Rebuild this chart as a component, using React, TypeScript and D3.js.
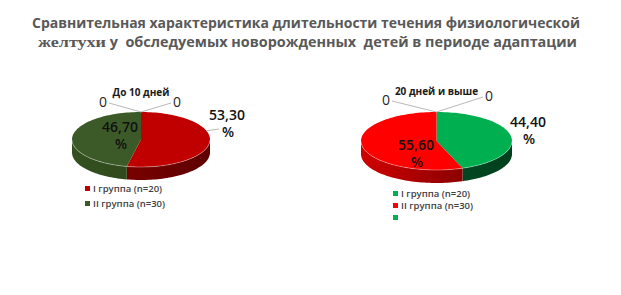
import React, { useEffect } from 'react';
import * as d3 from 'd3';

const titleLine1 = 'Сравнительная характеристика длительности течения физиологической';
const titleLine2Serif = 'желтухи';
const titleLine2Rest = ' у  обследуемых новорожденных  детей в периоде адаптации';
const pieTitles = ['До 10 дней', '20 дней и выше'];
const seriesNames = ['I группа (n=20)', 'II группа (n=30)'];
const valuesUpTo10 = [53.3, 46.7, 0, 0];
const values20Plus = [44.4, 55.6, 0, 0];

const W = 621;
const H = 295;
const SANS = "'Open Sans', 'Noto Sans', sans-serif";
const SERIF = "'Liberation Serif', 'DejaVu Serif', serif";

type Cfg = {
  id: string;
  cx: number; cy: number; rx: number; ry: number; depth: number;
  colors: string[];
  sides: [string, string][];
  labelPos: [number, number][];
  leader?: (null | [number, number])[];
  zeroPos: [number, number][];
  title: string; titleY: number;
  legendX: number; legendY: number; legendDy: number;
  legendNames: string[]; legendColors: string[];
};

const fmt = (v: number) => v.toFixed(2).replace('.', ',');

function Pie3D({ cfg, values }: { cfg: Cfg; values: number[] }) {
  const { cx, cy, rx, ry, depth } = cfg;
  const pie = d3.pie<number>().sort(null).value((d) => d);
  const arcs = pie(values);
  const pt = (t: number, dy = 0): [number, number] => [cx + rx * Math.sin(t), cy - ry * Math.cos(t) + dy];
  const line = d3.line<[number, number]>();
  const sample = (a: number, b: number, dy = 0) => {
    const n = Math.max(2, Math.ceil(((b - a) / (2 * Math.PI)) * 180));
    return d3.range(n + 1).map((i) => pt(a + ((b - a) * i) / n, dy));
  };
  const tops = arcs.map((a) => {
    if (a.endAngle - a.startAngle <= 0) return null;
    return line([[cx, cy], ...sample(a.startAngle, a.endAngle)]) + 'Z';
  });
  const sidesP = arcs.map((a) => {
    const s = Math.max(a.startAngle, Math.PI / 2);
    const e = Math.min(a.endAngle, (3 * Math.PI) / 2);
    if (e <= s) return null;
    const top = sample(s, e);
    const bot = sample(s, e, depth).reverse();
    return line([...top, ...bot]) + 'Z';
  });
  const rim = line(sample(Math.PI / 2, (3 * Math.PI) / 2));
  const topPoint = pt(0);
  const zeroArcs = arcs.filter((a) => a.value === 0);
  return (
    <g>
      <defs>
        {cfg.sides.map((s, i) => (
          <linearGradient key={i} id={`${cfg.id}-side-${i}`} gradientUnits="userSpaceOnUse" x1={cx - rx} x2={cx + rx} y1={0} y2={0}>
            <stop offset="0" stopColor={s[0]} />
            <stop offset="1" stopColor={s[1]} />
          </linearGradient>
        ))}
      </defs>
      {sidesP.map((p, i) => p && <path key={'s' + i} d={p} fill={`url(#${cfg.id}-side-${i})`} />)}
      {tops.map((p, i) => p && <path key={'t' + i} d={p} fill={cfg.colors[i]} />)}
      <path d={rim || ''} fill="none" stroke="#ffffff" strokeOpacity={0.35} strokeWidth={1} />
      {zeroArcs.map((a, k) => (
        <g key={'z' + k}>
          <line x1={topPoint[0]} y1={topPoint[1]} x2={cfg.zeroPos[k][0] + (k === 0 ? 6 : -6)} y2={cfg.zeroPos[k][1] - 4} stroke="#a6a6a6" strokeWidth={0.8} />
          <text x={cfg.zeroPos[k][0]} y={cfg.zeroPos[k][1]} fontFamily={SANS} fontSize={14} fontWeight={500} fill="#262626" textAnchor="middle">0</text>
        </g>
      ))}
      {arcs.map((a, i) => {
        if (a.value === 0) return null;
        const [lx, ly] = cfg.labelPos[i];
        const ld = cfg.leader && cfg.leader[i];
        return (
          <g key={'l' + i}>
            {ld && <line x1={pt(ld[0])[0]} y1={pt(ld[0])[1]} x2={ld[1]} y2={ly + 9} stroke="#a6a6a6" strokeWidth={0.8} />}
            <text x={lx} y={ly} fontFamily={SANS} fontSize={14} fontWeight={600} fill="#111" textAnchor="middle">{fmt(a.value)}</text>
            <text x={lx + 1} y={ly + 17} fontFamily={SANS} fontSize={14} fontWeight={600} fill="#111" textAnchor="middle">%</text>
          </g>
        );
      })}
      <text x={cx} y={cfg.titleY} fontFamily={SANS} fontSize={10} fontWeight={700} fill="#1a1a1a" textAnchor="middle">{cfg.title}</text>
      {cfg.legendNames.map((n, i) => (
        <g key={'lg' + i}>
          <rect x={cfg.legendX} y={cfg.legendY + i * cfg.legendDy - 6} width={5} height={5} fill={cfg.legendColors[i]} />
          <text x={cfg.legendX + 8} y={cfg.legendY + i * cfg.legendDy} fontFamily={SANS} fontSize={9.5} fontWeight={600} fill="#404040">{n}</text>
        </g>
      ))}
    </g>
  );
}

const leftCfg: Cfg = {
  id: 'p1', cx: 141, cy: 139.5, rx: 69, ry: 27.5, depth: 13,
  colors: ['#C00000', '#3C5A27', '#888', '#888'],
  sides: [['#8a0000', '#5e0000'], ['#34501f', '#2a4019'], ['#444', '#444'], ['#444', '#444']],
  labelPos: [[227, 120], [120, 132]],
  leader: [[1.25, 219], null],
  zeroPos: [[103, 107], [177, 107]],
  title: pieTitles[0], titleY: 96,
  legendX: 85, legendY: 192, legendDy: 15,
  legendNames: seriesNames, legendColors: ['#C00000', '#3C5A27'],
};

const rightCfg: Cfg = {
  id: 'p2', cx: 436.5, cy: 141, rx: 75.5, ry: 29, depth: 13,
  colors: ['#00B050', '#FF0000', '#888', '#888'],
  sides: [['#005a2a', '#003f1d'], ['#d00000', '#6a0000'], ['#444', '#444'], ['#444', '#444']],
  labelPos: [[528, 127], [416, 150]],
  zeroPos: [[386, 105], [489, 101]],
  title: pieTitles[1], titleY: 95,
  legendX: 393, legendY: 197, legendDy: 12,
  legendNames: [...seriesNames, ''], legendColors: ['#00B050', '#FF0000', '#00B050'],
};

export default function App() {
  useEffect(() => {
    document.body.style.margin = '0';
    document.body.style.overflow = 'hidden';
  }, []);
  return (
    <svg width={W} height={H} style={{ position: 'absolute', left: 0, top: 0, display: 'block', background: '#fff' }}>
      <rect x={0} y={0} width={W} height={H} fill="#ffffff" />
      <text x={306} y={28} textAnchor="middle" fontFamily={SANS} fontSize={14} fontWeight={700} fill="#595959" textLength={548} lengthAdjust="spacingAndGlyphs">{titleLine1}</text>
      <text y={47} fontFamily={SANS} fontSize={14} fontWeight={700} fill="#595959" style={{ whiteSpace: 'pre' }}>
        <tspan x={38} fontFamily={SERIF} textLength={68} lengthAdjust="spacingAndGlyphs">{titleLine2Serif}</tspan>
        <tspan textLength={471} lengthAdjust="spacingAndGlyphs">{titleLine2Rest}</tspan>
      </text>
      <Pie3D cfg={leftCfg} values={valuesUpTo10} />
      <Pie3D cfg={rightCfg} values={values20Plus} />
    </svg>
  );
}
